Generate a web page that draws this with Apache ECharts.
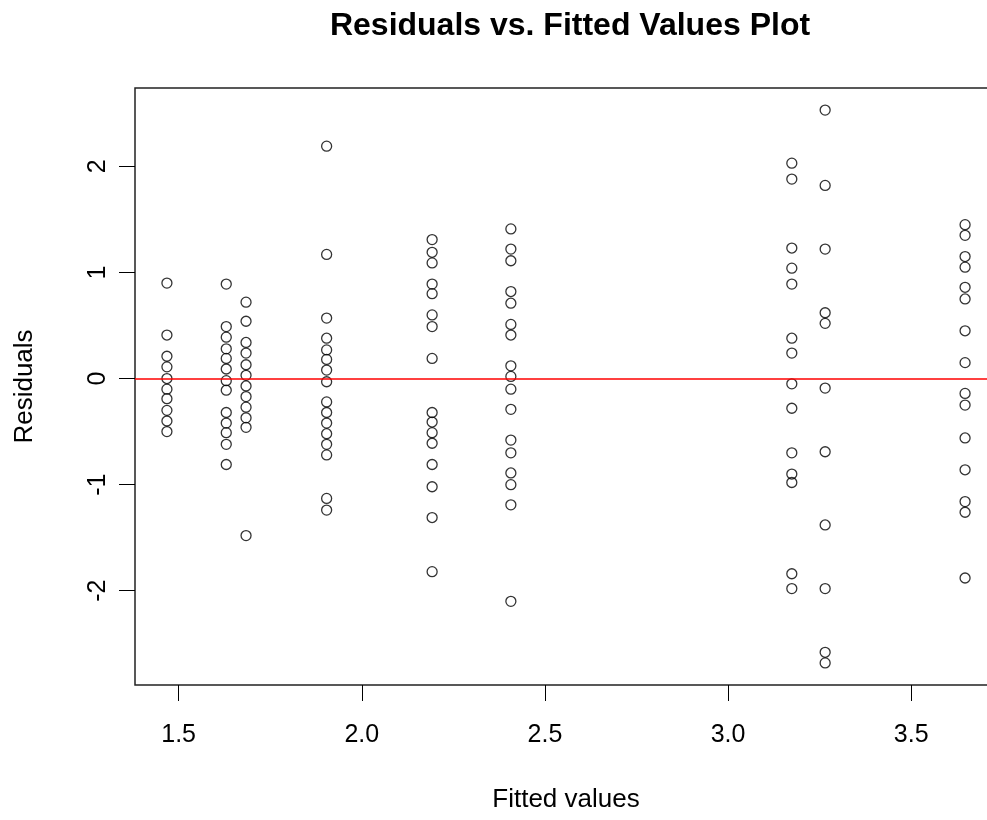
<!DOCTYPE html>
<html>
<head>
<meta charset="utf-8">
<script src="https://cdn.jsdelivr.net/npm/echarts@6/dist/echarts.min.js"></script>
<style>html,body{margin:0;padding:0;background:#fff}#c{width:987px;height:820px}</style>
</head>
<body>
<div id="c"></div>
<script>
const titleText = 'Residuals vs. Fitted Values Plot';
const xName = 'Fitted values';
const yName = 'Residuals';
const xTicks = [1.5, 2.0, 2.5, 3.0, 3.5];
const yTicks = [-2, -1, 0, 1, 2];
const fitted = [1.468, 1.630, 1.684, 1.904, 2.192, 2.407, 3.174, 3.265, 3.647];
const res1 = [0.90, 0.41, 0.21, 0.11, 0.00, -0.10, -0.19, -0.30, -0.40, -0.50];
const res2 = [0.89, 0.49, 0.39, 0.28, 0.19, 0.09, -0.02, -0.11, -0.32, -0.42, -0.51, -0.62, -0.81];
const res3 = [0.72, 0.54, 0.34, 0.24, 0.13, 0.03, -0.07, -0.17, -0.27, -0.37, -0.46, -1.48];
const res4 = [2.19, 1.17, 0.57, 0.38, 0.27, 0.18, 0.08, -0.03, -0.22, -0.32, -0.42, -0.52, -0.62, -0.72, -1.13, -1.24];
const res5 = [1.31, 1.19, 1.09, 0.89, 0.80, 0.60, 0.49, 0.19, -0.32, -0.41, -0.51, -0.61, -0.81, -1.02, -1.31, -1.82];
const res6 = [1.41, 1.22, 1.11, 0.82, 0.71, 0.51, 0.41, 0.12, 0.02, -0.10, -0.29, -0.58, -0.70, -0.89, -1.00, -1.19, -2.10];
const res7 = [2.03, 1.88, 1.23, 1.04, 0.89, 0.38, 0.24, -0.05, -0.28, -0.70, -0.90, -0.98, -1.84, -1.98];
const res8 = [2.53, 1.82, 1.22, 0.62, 0.52, -0.09, -0.69, -1.38, -1.98, -2.58, -2.68];
const res9 = [1.45, 1.35, 1.15, 1.05, 0.86, 0.75, 0.45, 0.15, -0.14, -0.25, -0.56, -0.86, -1.16, -1.26, -1.88];
const residualGroups = [res1, res2, res3, res4, res5, res6, res7, res8, res9];

const points = [];
residualGroups.forEach((g, i) => g.forEach(r => points.push([fitted[i], r])));

// R-style axis limits: data range extended by 4%
const allX = points.map(p => p[0]), allY = points.map(p => p[1]);
const xr = [Math.min(...allX), Math.max(...allX)];
const yr = [Math.min(...allY), Math.max(...allY)];
const xPad = (xr[1] - xr[0]) * 0.04, yPad = (yr[1] - yr[0]) * 0.04;

const FONT = "'Liberation Sans', Arial, sans-serif";
const chart = echarts.init(document.getElementById('c'), null, {renderer: 'canvas'});
chart.setOption({
  backgroundColor: '#fff',
  animation: false,
  title: {
    text: titleText,
    left: 565,
    top: 5,
    textAlign: 'center',
    textStyle: {fontFamily: FONT, fontSize: 32, fontWeight: 'bold', color: '#000'}
  },
  grid: {
    left: 135, top: 88, width: 862, height: 597,
    show: true, borderColor: '#222', borderWidth: 1.5, backgroundColor: 'transparent',
    containLabel: false, outerBoundsMode: 'none'
  },
  xAxis: {
    type: 'value',
    min: xr[0] - xPad, max: xr[1] + xPad,
    name: xName, nameLocation: 'middle', nameGap: 102,
    nameTextStyle: {fontFamily: FONT, fontSize: 26, color: '#000'},
    axisLine: {show: false, onZero: false},
    axisTick: {show: true, length: 16, customValues: xTicks, lineStyle: {color: '#000', width: 1}},
    axisLabel: {show: true, customValues: xTicks, margin: 38, fontFamily: FONT, fontSize: 25, color: '#000',
      formatter: v => v.toFixed(1)},
    splitLine: {show: false}
  },
  yAxis: {
    type: 'value',
    min: yr[0] - yPad, max: yr[1] + yPad,
    name: yName, nameLocation: 'middle', nameGap: 97, nameRotate: 90,
    nameTextStyle: {fontFamily: FONT, fontSize: 26, color: '#000'},
    axisLine: {show: false, onZero: false},
    axisTick: {show: true, length: 16, customValues: yTicks, lineStyle: {color: '#000', width: 1}},
    axisLabel: {show: true, customValues: yTicks, rotate: 90, margin: 24, fontFamily: FONT, fontSize: 25, color: '#000',
      formatter: v => String(v)},
    splitLine: {show: false}
  },
  series: [{
    type: 'scatter',
    data: points,
    symbol: 'circle',
    symbolSize: 10,
    itemStyle: {color: 'rgba(255,255,255,0)', borderColor: '#000', borderWidth: 1.3},
    markLine: {
      silent: true,
      symbol: ['none', 'none'],
      label: {show: false},
      lineStyle: {color: '#ff0000', width: 1.5, type: 'solid'},
      data: [{yAxis: 0}]
    },
    z: 3
  }]
});
</script>
</body>
</html>
